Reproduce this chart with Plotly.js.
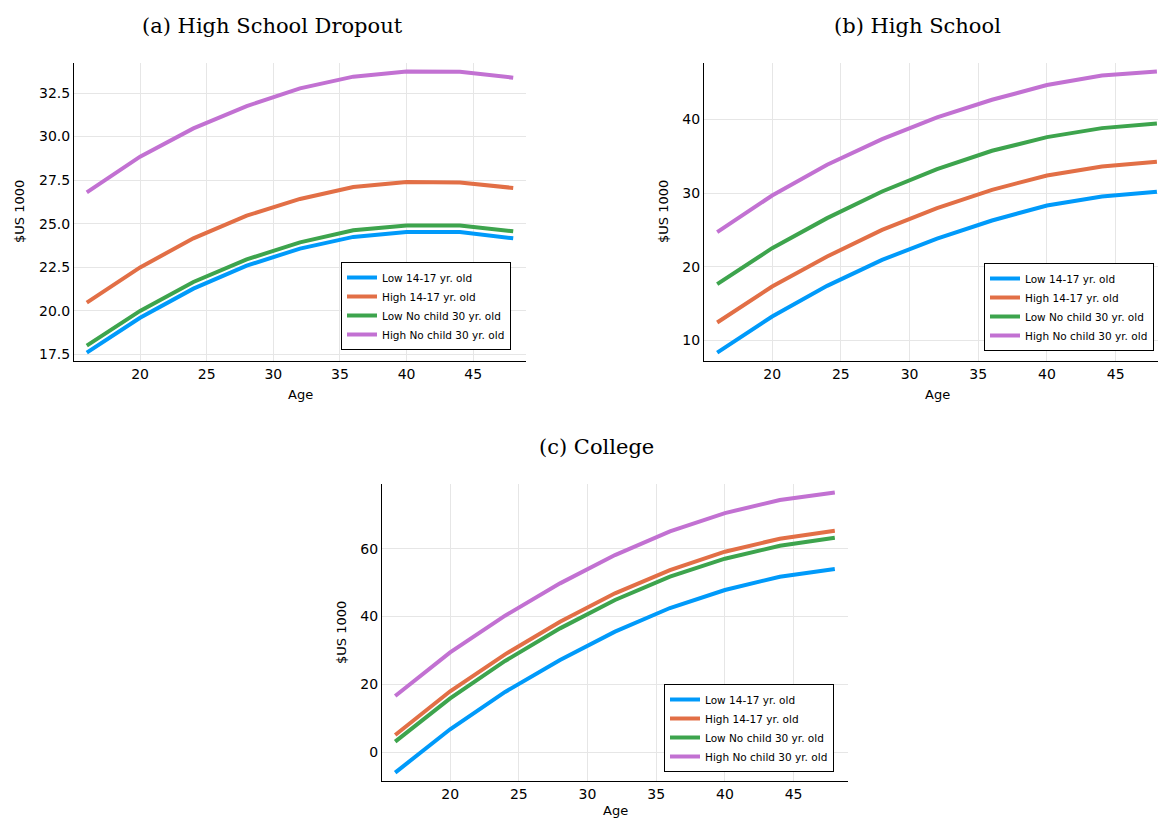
<!DOCTYPE html>
<html>
<head>
<meta charset="utf-8">
<script src="https://cdn.plot.ly/plotly-3.0.1.min.js"></script>
<style>html,body{margin:0;padding:0;background:#fff;}#chart{width:1158px;height:820px;}</style>
</head>
<body>
<div id="chart"></div>
<script>
const ages = [16, 20, 24, 28, 32, 36, 40, 44, 48];
const seriesNames = ["Low 14-17 yr. old", "High 14-17 yr. old", "Low No child 30 yr. old", "High No child 30 yr. old"];
const colors = ["#009AFA", "#E26F46", "#3DA44D", "#C271D2"];
const panelTitles = ["(a) High School Dropout", "(b) High School", "(c) College"];

// (a) High School Dropout
const dropLow1417   = [17.60, 19.60, 21.27, 22.59, 23.57, 24.24, 24.52, 24.52, 24.16];
const dropHigh1417  = [20.47, 22.49, 24.16, 25.46, 26.42, 27.10, 27.39, 27.37, 27.05];
const dropLowNo30   = [18.00, 19.99, 21.65, 22.95, 23.93, 24.62, 24.90, 24.89, 24.56];
const dropHighNo30  = [26.80, 28.85, 30.47, 31.75, 32.77, 33.44, 33.74, 33.72, 33.38];

// (b) High School
const hsLow1417   = [8.33, 13.22, 17.39, 20.92, 23.82, 26.27, 28.31, 29.53, 30.17];
const hsHigh1417  = [12.41, 17.30, 21.38, 25.00, 27.95, 30.44, 32.39, 33.61, 34.25];
const hsLowNo30   = [17.62, 22.51, 26.59, 30.21, 33.25, 35.74, 37.60, 38.82, 39.46];
const hsHighNo30  = [24.69, 29.67, 33.84, 37.33, 40.27, 42.67, 44.67, 45.98, 46.52];

// (c) College
const colLow1417  = [-6.01, 6.76, 17.76, 27.19, 35.54, 42.51, 47.82, 51.75, 54.00];
const colHigh1417 = [5.09, 17.96, 28.86, 38.49, 46.84, 53.71, 59.12, 62.95, 65.30];
const colLowNo30  = [3.12, 15.89, 26.90, 36.52, 44.87, 51.75, 57.05, 60.88, 63.24];
const colHighNo30 = [16.58, 29.45, 40.26, 49.78, 58.13, 65.11, 70.51, 74.34, 76.60];

const panels = [
  {data: [dropLow1417, dropHigh1417, dropLowNo30, dropHighNo30], xa: "x", ya: "y", lg: "legend"},
  {data: [hsLow1417, hsHigh1417, hsLowNo30, hsHighNo30], xa: "x2", ya: "y2", lg: "legend2"},
  {data: [colLow1417, colHigh1417, colLowNo30, colHighNo30], xa: "x3", ya: "y3", lg: "legend3"}
];

const traces = [];
panels.forEach(p => {
  p.data.forEach((vals, i) => {
    traces.push({
      x: ages, y: vals, type: "scatter", mode: "lines",
      name: seriesNames[i], line: {color: colors[i], width: 4},
      xaxis: p.xa, yaxis: p.ya, legend: p.lg, showlegend: true
    });
  });
});

function padRange(arrs, frac) {
  const all = [].concat(...arrs);
  const mn = Math.min(...all), mx = Math.max(...all);
  const s = (mx - mn) * frac;
  return [mn - s, mx + s];
}

const W = 1158, H = 820;
const sans = "DejaVu Sans, sans-serif";
const serif = "DejaVu Serif, Liberation Serif, serif";

function xax(dom, range, anchor) {
  return {domain: dom, range: range, anchor: anchor, tick0: 20, dtick: 5, showgrid: true, gridcolor: "#e6e6e6", gridwidth: 1,
          zeroline: false, showline: true, linecolor: "#000", linewidth: 1, ticks: "", mirror: false,
          tickfont: {family: sans, size: 14, color: "#000"}, automargin: false, fixedrange: true};
}
function yax(dom, range, dtick, fmt, anchor) {
  return {domain: dom, range: range, anchor: anchor, dtick: dtick, tickformat: fmt, showgrid: true, gridcolor: "#e6e6e6", gridwidth: 1,
          zeroline: false, showline: true, linecolor: "#000", linewidth: 1, ticks: "",
          tickfont: {family: sans, size: 14, color: "#000"}, automargin: false, fixedrange: true};
}
function leg(xr, yb) {
  return {x: xr / W, y: 1 - yb / H, xanchor: "right", yanchor: "bottom", bgcolor: "#fff",
          bordercolor: "#000", borderwidth: 1, font: {family: sans, size: 10.5, color: "#000"},
          tracegroupgap: 0, itemwidth: 30};
}
function ann(text, px, py, font, extra) {
  return Object.assign({text: text, x: px / W, y: 1 - py / H, xref: "paper", yref: "paper", showarrow: false,
          xanchor: "center", yanchor: "middle", font: font}, extra || {});
}
const titleFont = {family: serif, size: 21, color: "#000"};
const labFont = {family: sans, size: 13, color: "#000"};

const layout = {
  width: W, height: H,
  margin: {l: 0, r: 0, t: 0, b: 0},
  paper_bgcolor: "#fff", plot_bgcolor: "#fff",
  showlegend: true,
  xaxis:  xax([74 / W, 526 / W], [15.04, 48.96], "y"),
  yaxis:  yax([1 - 361 / H, 1 - 63 / H], padRange(panels[0].data, 0.03), 2.5, ".1f", "x"),
  xaxis2: xax([704 / W, 1], [15.04, 48.08], "y2"),
  yaxis2: yax([1 - 361 / H, 1 - 63 / H], padRange(panels[1].data, 0.03), 10, "d", "x2"),
  xaxis3: xax([382 / W, 848 / W], [15.04, 48.96], "y3"),
  yaxis3: yax([1 - 781 / H, 1 - 484 / H], padRange(panels[2].data, 0.03), 20, "d", "x3"),
  legend:  leg(511, 350),
  legend2: leg(1154, 351),
  legend3: leg(834, 772),
  annotations: [
    ann(panelTitles[0], 272, 26, titleFont),
    ann(panelTitles[1], 917, 26, titleFont),
    ann(panelTitles[2], 596, 447, titleFont),
    ann("Age", 300, 394, labFont),
    ann("Age", 937, 394, labFont),
    ann("Age", 615, 810, labFont),
    ann("$US 1000", 19, 212, labFont, {textangle: -90}),
    ann("$US 1000", 663, 212, labFont, {textangle: -90}),
    ann("$US 1000", 341, 633, labFont, {textangle: -90})
  ]
};

Plotly.newPlot("chart", traces, layout, {staticPlot: true, displayModeBar: false});
</script>
</body>
</html>
